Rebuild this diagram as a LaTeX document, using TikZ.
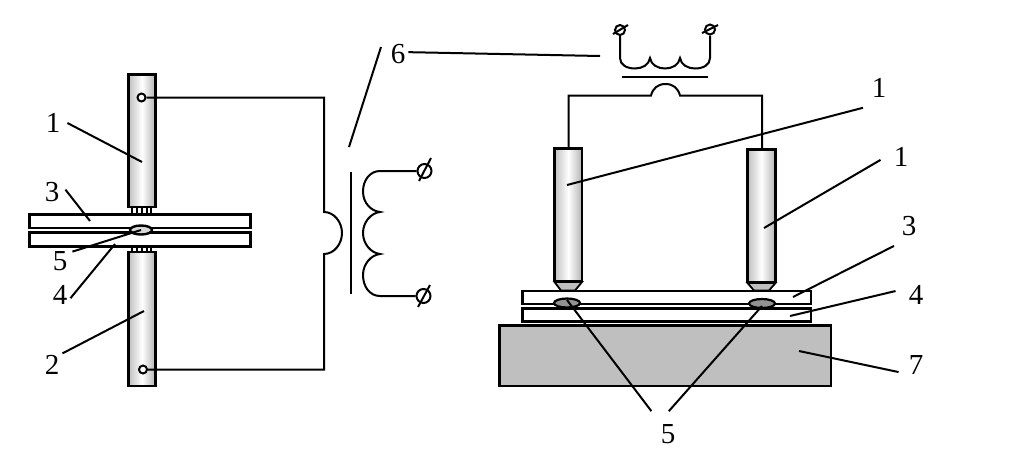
\documentclass[tikz,border=0pt]{standalone}
\usepackage{fontspec}
\setmainfont{Liberation Serif}
\tikzset{
    wire/.style={line width=2pt},
    lead/.style={line width=2pt},
    heavy/.style={line width=2.6pt},
    electrode/.style={heavy,left color=gray!50,right color=gray!60,middle color=white},
    plate/.style={heavy,fill=white},
    nugget/.style={line width=2.2pt,fill=gray!85},
    terminal/.style={circle,draw,line width=2pt,inner sep=0pt,fill=white},
    lbl/.style={inner sep=3pt,font=\fontsize{29}{29}\selectfont}
}
\begin{document}
\begin{tikzpicture}[x=1pt,y=-1pt]
    \useasboundingbox (0,0) rectangle (1024,453);
    % left machine
    \draw[electrode] (128.5,74.5) rectangle (155.5,207);
    \draw[electrode] (128.5,252) rectangle (155.5,386);
    \foreach \sx in {132,137,142,147,151} {
        \draw[line width=1.6pt] (\sx,207) -- (\sx,213);
        \draw[line width=1.6pt] (\sx,246) -- (\sx,252);
    }
    \draw[plate] (29.5,214.5) rectangle (250.5,228);
    \draw[plate] (29.5,232.5) rectangle (250.5,246.5);
    \draw[line width=2.4pt,fill=gray!30] (141,230) ellipse (11pt and 4.5pt);
    \node[terminal,minimum size=8pt] (topclamp) at (141.5,97.5) {};
    \node[terminal,minimum size=8pt] (botclamp) at (143,369.5) {};
    \coordinate (bumpa) at (324,212);
    \coordinate (bumpb) at (324,254);
    \draw[wire] (topclamp) -- (324,97.5) -- (bumpa)
        .. controls (334,212) and (342,222) .. (342,233)
        .. controls (342,244) and (334,254) .. (bumpb) -- (324,369.5) -- (botclamp);
    % left transformer
    \draw[wire] (351,172) -- (351,294);
    \node[terminal,minimum size=14pt] (terma) at (424.5,171) {};
    \node[terminal,minimum size=14pt] (termb) at (423.5,296) {};
    \draw[wire] (419,181) -- (431,158);
    \draw[wire] (418,307) -- (430,285);
    \coordinate (coila) at (380,171);
    \coordinate (coilb) at (380,212);
    \coordinate (coilc) at (380,254);
    \coordinate (coild) at (380,296);
    \draw[wire] (terma) -- (coila)
        .. controls (370,171) and (363,180) .. (363,191.5)
        .. controls (363,203) and (371,211) .. (coilb)
        .. controls (371,213) and (363,222) .. (363,233)
        .. controls (363,244) and (371,253) .. (coilc)
        .. controls (371,255) and (363,264) .. (363,275)
        .. controls (363,287) and (370,296) .. (coild) -- (termb);
    % right machine
    \draw[wire] (568.5,148) -- (568.5,95.5) -- (651,95.5)
        .. controls (653,88) and (658,84) .. (665.5,84)
        .. controls (673,84) and (678,88) .. (680,95.5) -- (762,95.5) -- (762,149);
    \draw[electrode] (554.5,148.5) rectangle (582,281);
    \draw[electrode] (747.5,149.5) rectangle (775.5,282);
    \draw[line width=1.8pt,fill=gray!50] (554.5,282) -- (561,290.5) -- (575,290.5) -- (582,282) -- cycle;
    \draw[line width=1.8pt,fill=gray!50] (747.5,283) -- (754,290.5) -- (769,290.5) -- (775.5,283) -- cycle;
    \draw[plate] (522.5,291) rectangle (811,304);
    \draw[plate] (522.5,308.5) rectangle (811,321.5);
    \draw[heavy,fill=gray!50] (499.5,325.5) rectangle (831,386);
    \draw[nugget] (567,303) ellipse (13pt and 4.5pt);
    \draw[nugget] (762,303.5) ellipse (13pt and 4.5pt);
    % right transformer
    \node[terminal,minimum size=10pt] (termc) at (620,30) {};
    \node[terminal,minimum size=10pt] (termd) at (710,29.5) {};
    \draw[wire] (613,34) -- (628,25);
    \draw[wire] (702,33) -- (718,25);
    \coordinate (coile) at (620,58);
    \coordinate (coilf) at (650,58);
    \coordinate (coilg) at (680,58);
    \coordinate (coilh) at (710,58);
    \draw[wire] (termc) -- (coile)
        .. controls (620,65) and (627,68.5) .. (635,68.5)
        .. controls (642,68.5) and (649,65) .. (coilf)
        .. controls (651,65) and (658,68.5) .. (665,68.5)
        .. controls (672,68.5) and (679,65) .. (coilg)
        .. controls (681,65) and (688,68.5) .. (695,68.5)
        .. controls (703,68.5) and (710,65) .. (coilh) -- (termd);
    \draw[wire] (622,77) -- (708,77);
    % labels
    \node[lbl,inner sep=7pt] (laba) at (53,123) {1};
    \node[lbl,inner sep=6pt] (labb) at (52,192) {3};
    \node[lbl,inner sep=5pt] (labc) at (60,261) {5};
    \node[lbl] (labd) at (60,295) {4};
    \node[lbl] (labe) at (52,365) {2};
    \node[lbl] (labf) at (398,54) {6};
    \node[lbl,inner sep=10pt] (labg) at (879,88) {1};
    \node[lbl,inner sep=13pt] (labh) at (901,157) {1};
    \node[lbl,inner sep=10pt] (labi) at (909,226) {3};
    \node[lbl,inner sep=13pt] (labj) at (916,295) {4};
    \node[lbl,inner sep=10pt] (labk) at (916,365) {7};
    \node[lbl,inner sep=13pt] (labl) at (668,434) {5};
    \coordinate (labfb) at (381,47);
    % leaders
    \draw[lead] (laba.east) -- (142,162);
    \draw[lead] (labb.10) -- (90,221);
    \draw[lead] (labc.37) -- (141,230);
    \draw[lead] (labd.-17) -- (115,244);
    \draw[lead] (labe.48) -- (144,311);
    \draw[lead] (labf.10) -- (600,56);
    \draw[lead] (labfb) -- (349,147);
    \draw[lead] (labg.-129) -- (567,185);
    \draw[lead] (labh.-172) -- (764,228);
    \draw[lead] (labi.-127) -- (793,297);
    \draw[lead] (labj.169) -- (790,316);
    \draw[lead] (labk.-158) -- (799,351);
    \draw[lead] (labl.126) -- (567,300);
    \draw[lead] (labl.88) -- (762,306);
\end{tikzpicture}
\end{document}
